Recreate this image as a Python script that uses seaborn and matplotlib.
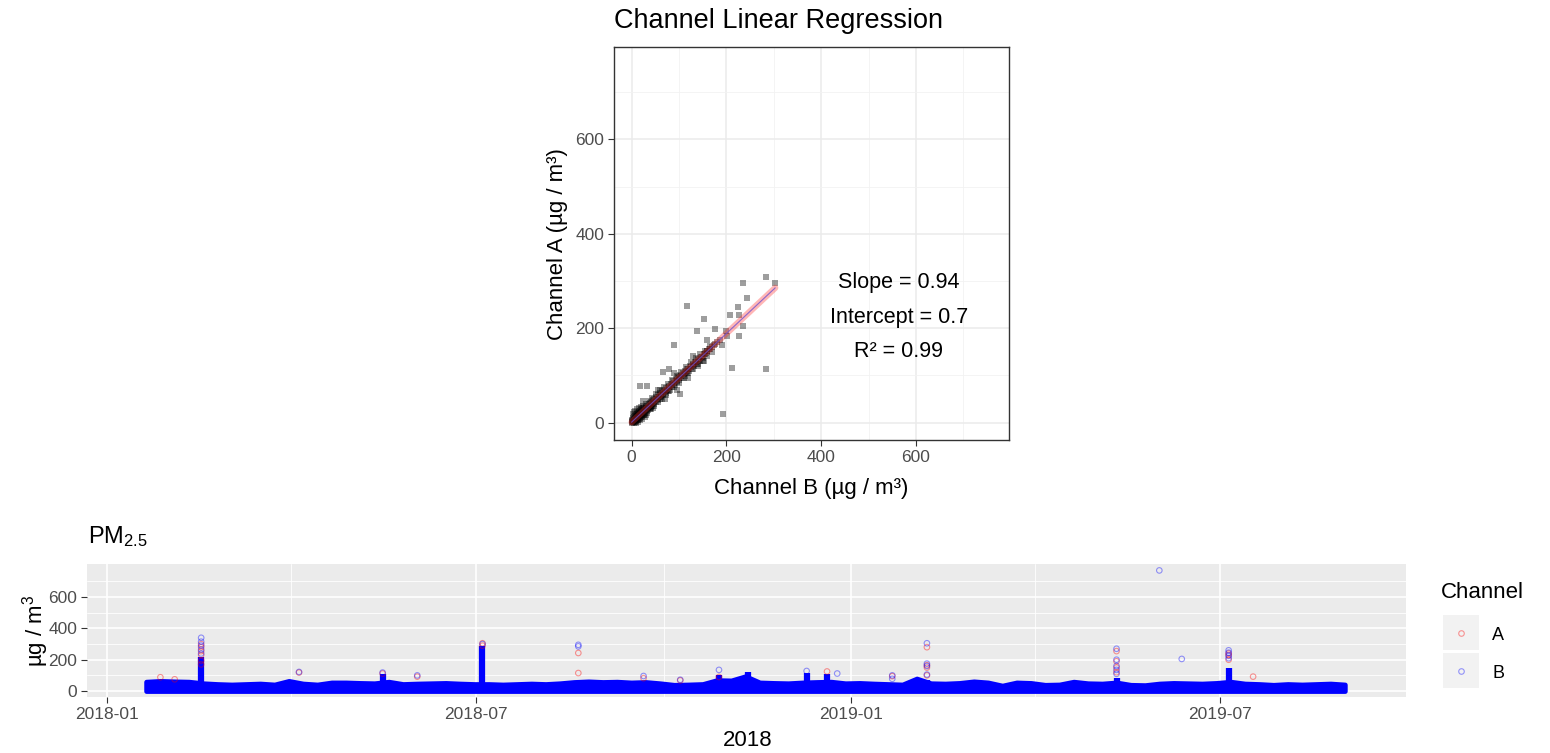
import numpy as np
import pandas as pd
import matplotlib
matplotlib.use("Agg")
import matplotlib.pyplot as plt
import matplotlib.dates as mdates
from matplotlib.ticker import MultipleLocator, FixedLocator
from matplotlib.lines import Line2D
from matplotlib.patches import Rectangle
import seaborn as sns

# ---------------------------------------------------------------- data
# Paired hourly readings (µg/m³) of the two sensor channels
channel_b = [0, 1, 2, 2, 3, 3, 4, 4, 5, 5, 6, 6, 7, 7, 8, 8, 9, 9, 10, 10,
             11, 11, 12, 12, 13, 13, 14, 14, 15, 15, 16, 16, 17, 17, 18, 18,
             19, 19, 20, 20, 22, 22, 23, 24, 24, 25, 26, 27, 28, 29, 30, 30,
             32, 33, 34, 35, 36, 37, 38, 39, 40, 41, 42, 43, 44, 45, 46, 48,
             48, 50, 51, 52, 54, 55, 56, 58, 59, 60, 62, 63, 64, 66, 67, 68,
             70, 72, 73, 75, 76, 78, 80, 81, 83, 85, 86, 88, 90, 91, 93, 95,
             96, 98, 100, 101, 103, 105, 107, 108, 110, 112, 113, 115, 117,
             118, 120, 122, 124, 125, 127, 129, 130, 132, 134, 136, 138, 140,
             142, 144, 146, 148, 150, 152, 155, 158, 160, 163, 166, 170, 175,
             4, 6, 8, 10, 12, 14, 16, 18, 20, 22, 25, 28, 30, 33, 36, 40, 44,
             48, 52, 56, 60, 64, 68, 72, 76, 80, 85, 90, 95, 100, 105, 110,
             115, 120, 125, 130, 135, 140, 145, 150, 155, 160, 165, 170,
             25, 30, 45, 55, 70, 90, 120, 130, 140, 160, 180, 190,
             283, 303, 234, 244, 117, 152, 224, 227, 208, 176, 138, 200, 234,
             226, 89, 212, 283, 193, 78, 66, 18, 32, 152, 159, 173, 187, 201,
             96, 103, 39, 26]
channel_a = [1, 3, 0, 6, 2, 9, 1, 5, 12, 3, 0, 8, 14, 4, 2, 10, 16, 6, 3, 12,
             18, 8, 5, 14, 20, 10, 6, 16, 22, 11, 8, 18, 24, 13, 9, 20,
             26, 15, 12, 22, 14, 28, 19, 16, 30, 22, 18, 31, 24, 20, 33, 27,
             24, 35, 30, 27, 39, 33, 29, 41, 36, 33, 44, 39, 35, 47, 42, 40,
             50, 46, 43, 54, 50, 47, 58, 54, 50, 62, 57, 54, 66, 61, 58, 70,
             65, 63, 73, 70, 66, 78, 75, 70, 82, 80, 75, 87, 84, 80, 92, 89,
             85, 96, 94, 90, 100, 99, 95, 105, 103, 99, 110, 108, 104,
             114, 113, 109, 119, 118, 114, 124, 122, 119, 128, 128, 125, 134,
             133, 130, 139, 139, 137, 145, 146, 148, 152, 155, 156, 160, 166,
             18, 22, 25, 0, 28, 2, 30, 5, 34, 8, 36, 12, 40, 20, 46, 28, 52,
             35, 60, 44, 68, 50, 76, 58, 82, 66, 90, 76, 98, 84, 108, 94,
             118, 104, 128, 114, 136, 124, 146, 130, 152, 140, 162, 150,
             45, 15, 30, 70, 50, 105, 95, 140, 120, 175, 170, 165,
             309, 295, 295, 263, 246, 220, 244, 228, 228, 198, 194, 195, 204,
             183, 164, 116, 114, 18, 113, 107, 78, 78, 130, 151, 165, 176, 183,
             70, 60, 30, 16]

slope = 0.94
intercept = 0.7
r_squared = 0.99

# Weekly upper envelope of the channel B record (µg/m³), from 2018-01-20
week_start = "2018-01-20"
weekly_high = [60, 65, 62, 60, 50, 45, 42, 45, 48, 42, 65, 48, 42, 55, 55,
               52, 50, 60, 45, 48, 50, 52, 48, 45, 45, 42, 45, 48, 45, 50,
               58, 62, 58, 60, 55, 58, 50, 40, 42, 45, 70, 68, 95, 55, 52,
               50, 55, 58, 60, 50, 52, 48, 45, 42, 80, 50, 48, 52, 62, 55,
               35, 55, 52, 40, 42, 60, 50, 48, 55, 40, 38, 48, 52, 50, 48,
               52, 60, 48, 45, 40, 45, 42, 45, 48, 42]

# Short pollution episodes: densest readings of the day
episode_dates = ["2018-02-16", "2018-05-16", "2018-07-04", "2018-10-28",
                 "2018-11-11", "2018-12-10", "2018-12-20", "2019-02-07",
                 "2019-05-11", "2019-07-05"]
episode_peak = [220, 110, 290, 100, 120, 115, 110, 70, 85, 150]

# Isolated high readings per channel
a_dates = ["2018-01-27", "2018-02-03", "2018-02-16", "2018-02-16", "2018-02-16",
           "2018-02-16", "2018-02-16", "2018-02-16", "2018-04-05", "2018-05-16",
           "2018-06-02", "2018-07-04", "2018-07-04", "2018-08-20", "2018-08-20",
           "2018-09-21", "2018-10-09", "2018-10-28", "2018-12-20", "2019-01-21",
           "2019-02-07", "2019-02-07", "2019-02-07", "2019-02-07", "2019-05-11",
           "2019-05-11", "2019-05-11", "2019-05-11", "2019-07-05", "2019-07-05",
           "2019-07-05", "2019-07-17"]
a_values = [88, 75, 230, 255, 280, 300, 195, 170, 118, 112,
            92, 290, 305, 243, 115,
            82, 68, 90, 125, 95,
            280, 165, 150, 100, 255,
            190, 150, 120, 240, 230,
            200, 92]
b_dates = ["2018-02-16", "2018-02-16", "2018-02-16", "2018-02-16", "2018-02-16",
           "2018-04-05", "2018-05-16", "2018-06-02", "2018-07-04", "2018-08-20",
           "2018-08-20", "2018-09-21", "2018-10-09", "2018-10-28", "2018-12-10",
           "2018-12-25", "2019-01-21", "2019-01-21", "2019-02-07", "2019-02-07",
           "2019-02-07", "2019-02-07", "2019-05-11", "2019-05-11", "2019-05-11",
           "2019-05-11", "2019-05-11", "2019-06-01", "2019-06-12", "2019-07-05",
           "2019-07-05", "2019-07-05", "2019-07-05"]
b_values = [240, 265, 290, 315, 340,
            122, 118, 100, 300, 295,
            285, 96, 72, 135, 128,
            112, 100, 78, 305, 175,
            160, 105, 270, 200, 160,
            135, 110, 770, 205, 260,
            245, 225, 210]

# ---------------------------------------------------------------- style
sns.set_theme(style="white")
plt.rcParams["font.family"] = ["Liberation Sans", "DejaVu Sans"]
plt.rcParams["text.color"] = "black"
plt.rcParams["mathtext.fontset"] = "custom"
plt.rcParams["mathtext.rm"] = "Liberation Sans"
plt.rcParams["mathtext.it"] = "Liberation Sans"

W, H = 1550, 753
fig = plt.figure(figsize=(W / 100, H / 100), dpi=100)
fig.patch.set_facecolor("white")


def box(l, t, r, b):
    return [l / W, 1 - b / H, (r - l) / W, (b - t) / H]


tick_grey = "#4D4D4D"

# ---------------------------------------------------------------- regression panel
ax1 = fig.add_axes(box(614, 47, 1009, 440))
reg_df = pd.DataFrame({"Channel B": channel_b, "Channel A": channel_a})
sns.scatterplot(data=reg_df, x="Channel B", y="Channel A", marker="s", s=21,
                color="black", alpha=0.38, linewidth=0, ax=ax1, zorder=3)
fit_x = np.array([min(channel_b), max(channel_b)])
fit_y = slope * fit_x + intercept
ax1.plot(fit_x, fit_y, color="#ff3030", alpha=0.35, lw=4.5,
         solid_capstyle="round", zorder=4)
ax1.plot(fit_x, fit_y, color="#7050d0", alpha=0.8, lw=0.8, zorder=5)

lim = (-37, 796)
ax1.set_xlim(lim)
ax1.set_ylim(lim)
for axis in (ax1.xaxis, ax1.yaxis):
    axis.set_major_locator(MultipleLocator(200))
    axis.set_minor_locator(MultipleLocator(100))
ax1.grid(which="major", color="#EBEBEB", lw=1.1)
ax1.grid(which="minor", color="#F2F2F2", lw=0.6)
ax1.set_axisbelow(True)
for sp in ax1.spines.values():
    sp.set_color("#333333")
    sp.set_linewidth(1.0)
ax1.tick_params(which="major", length=4.5, width=0.8, color="#333333",
                labelsize=12.5, labelcolor=tick_grey, pad=2.5,
                bottom=True, left=True)
ax1.tick_params(which="minor", length=0)
ax1.set_xlabel("")
ax1.set_ylabel("")

ann_x = 564
ax1.text(ann_x, 297, f"Slope = {slope}", ha="center", va="center", fontsize=15.5)
ax1.text(ann_x, 223, f"Intercept = {intercept}", ha="center", va="center", fontsize=15.5)
ax1.text(ann_x, 151, f"R² = {r_squared}", ha="center", va="center", fontsize=15.5)

fig.text(614 / W, 1 - 28 / H, "Channel Linear Regression", fontsize=19.5,
         ha="left", va="baseline")
fig.text(811 / W, 1 - 494 / H, "Channel B (µg / m³)", fontsize=16,
         ha="center", va="baseline")
fig.text(558 / W, 1 - 244 / H, "Channel A (µg / m³)", fontsize=16,
         ha="center", va="center", rotation=90)

# ---------------------------------------------------------------- time series panel
ax2 = fig.add_axes(box(87, 564, 1406, 697))
ax2.set_facecolor("#EBEBEB")
week_dates = pd.date_range(week_start, periods=len(weekly_high), freq="7D")
ax2.fill_between(week_dates, 0, weekly_high, facecolor="blue",
                 edgecolor="blue", lw=3.4, zorder=3)
ax2.vlines(pd.to_datetime(episode_dates), 0, episode_peak, color="blue",
           lw=4.5, zorder=3)
ax2.scatter(pd.to_datetime(a_dates), a_values, s=16, facecolors="none",
            edgecolors="red", linewidths=0.8, alpha=0.4, zorder=4)
ax2.scatter(pd.to_datetime(b_dates), b_values, s=16, facecolors="none",
            edgecolors="blue", linewidths=0.8, alpha=0.4, zorder=5)

ax2.set_xlim(pd.Timestamp("2017-12-22"), pd.Timestamp("2019-09-30"))
ax2.set_ylim(-38, 811)
ax2.xaxis.set_major_locator(mdates.MonthLocator(bymonth=[1, 7]))
ax2.xaxis.set_minor_locator(mdates.MonthLocator(bymonth=[4, 10]))
ax2.xaxis.set_major_formatter(mdates.DateFormatter("%Y-%m"))
ax2.yaxis.set_major_locator(FixedLocator([0, 200, 400, 600]))
ax2.yaxis.set_minor_locator(FixedLocator([100, 300, 500, 700]))
ax2.grid(which="major", color="white", lw=1.2)
ax2.grid(which="minor", color="white", lw=0.6)
ax2.set_axisbelow(True)
for sp in ax2.spines.values():
    sp.set_visible(False)
ax2.tick_params(which="major", length=4.5, width=0.8, color="#333333",
                labelsize=12.5, labelcolor=tick_grey, pad=2.5,
                bottom=True, left=True)
ax2.tick_params(which="minor", length=0)

fig.text(88 / W, 1 - 543 / H, "PM$_{2.5}$", fontsize=17, ha="left", va="baseline")
fig.text(748 / W, 1 - 746 / H, "2018", fontsize=16, ha="center", va="baseline")
fig.text(36 / W, 1 - 631 / H, "µg / m$^{3}$", fontsize=16, ha="center",
         va="center", rotation=90)

# ---------------------------------------------------------------- legend
fig.text(1441 / W, 1 - 593 / H, "Channel", fontsize=16, ha="left", va="center")
for (label, col, top) in (("A", "red", 615), ("B", "blue", 653)):
    fig.add_artist(Rectangle((1443 / W, 1 - (top + 35) / H), 36 / W, 35 / H,
                             transform=fig.transFigure, facecolor="#F2F2F2",
                             edgecolor="none"))
    fig.add_artist(Line2D([1461 / W], [1 - (top + 17.5) / H], marker="o",
                          markersize=4, markerfacecolor="none",
                          markeredgecolor=col, markeredgewidth=0.8, alpha=0.4,
                          linestyle="none", transform=fig.transFigure))
    fig.text(1492 / W, 1 - (top + 20) / H, label, fontsize=13, ha="left",
             va="center")

fig.savefig("out.png", dpi=100)
